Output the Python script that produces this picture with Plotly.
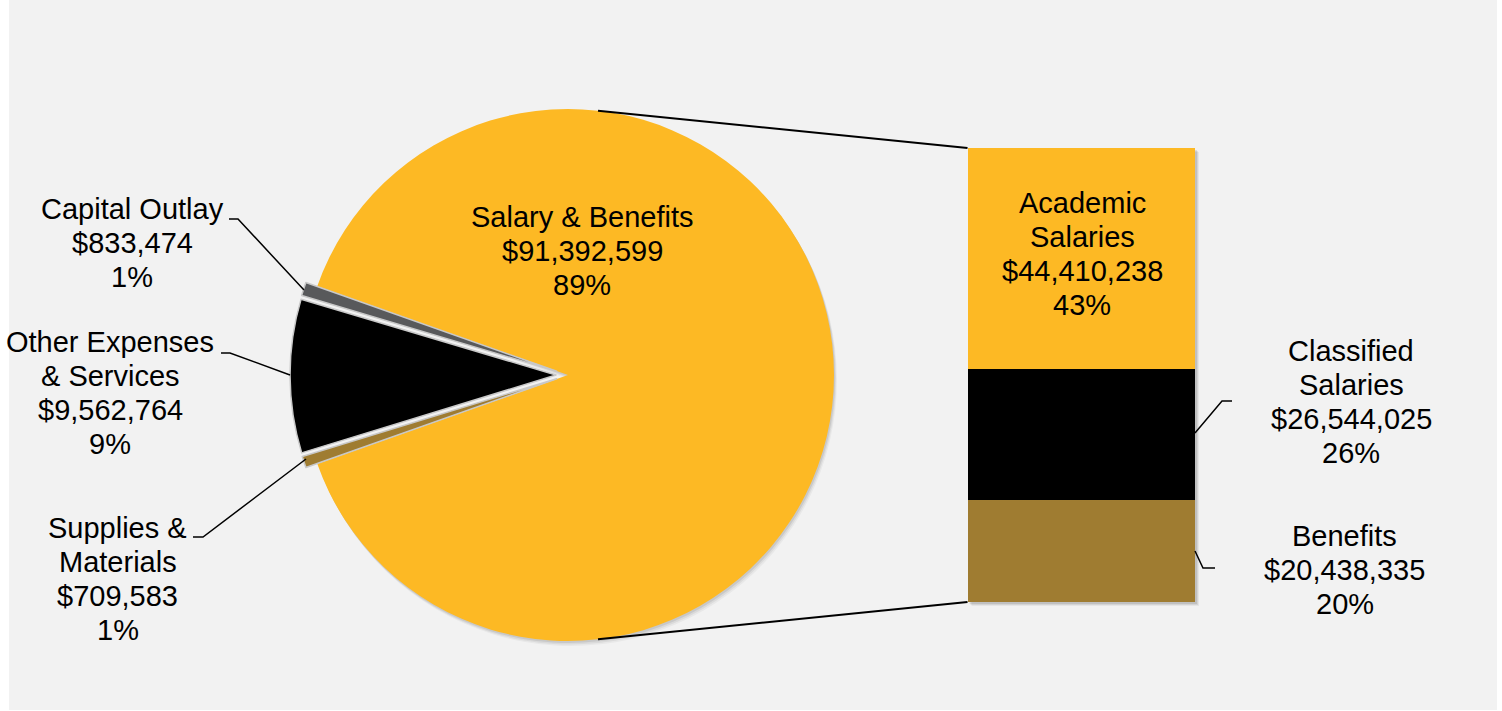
import plotly.graph_objects as go

# ---- data ----
pie_labels = ["Salary & Benefits", "Supplies &<br>Materials",
              "Other Expenses<br>& Services", "Capital Outlay"]
pie_values = [91392599, 709583, 9562764, 833474]
pie_colors = ["#FDB924", "#9F7C31", "#000000", "#58595B"]
pie_edge = ["rgba(0,0,0,0)", "#c8c8c8", "#c8c8c8", "#c8c8c8"]
pie_pull = [0.0, 0.045, 0.045, 0.045]

bar_labels = ["Benefits", "Classified<br>Salaries", "Academic<br>Salaries"]
bar_values = [20438335, 26544025, 44410238]
bar_colors = ["#9F7C31", "#000000", "#FDB924"]

grand_total = sum(pie_values)

# ---- page geometry (pixels) ----
W, H = 1502, 711
ML, MR, MT, MB = 9, 0, 0, 1
PW, PH = W - ML - MR, H - MT - MB


def px(x):
    return (x - ML) / PW


def py(y):
    return 1 - (y - MT) / PH


FONT = "Liberation Sans, Arial, sans-serif"
FS = 29
LINE = 34

# pie placement
CX, CY, R = 568, 375, 266
half = R * (1 + max(pie_pull))
# bar placement
BX0, BX1, BY0, BY1 = 967.5, 1195, 148, 602

# first slice starts so that the small slices sit centred on the left
ROT = -(90 - 180 * (grand_total - pie_values[0]) / grand_total)


def money(v):
    return "${:,.0f}".format(v)


def pct(v):
    return "{:.0f}%".format(v / grand_total * 100)


fig = go.Figure()

# soft shadow under the pie
for off, op in [(5, 0.04), (3.5, 0.06), (2, 0.08)]:
    fig.add_trace(go.Pie(
        values=pie_values, sort=False, direction="clockwise", rotation=ROT,
        pull=pie_pull, textinfo="none", hoverinfo="skip", showlegend=False,
        marker=dict(colors=["rgba(0,0,0,%s)" % op, "rgba(0,0,0,0)",
                            "rgba(0,0,0,0)", "rgba(0,0,0,0)"],
                    line=dict(width=0)),
        domain=dict(x=[px(CX - half + off * 0.6), px(CX + half + off * 0.6)],
                    y=[py(CY + half + off), py(CY - half + off)]),
    ))

fig.add_trace(go.Pie(
    labels=pie_labels, values=pie_values, sort=False, direction="clockwise",
    rotation=ROT, pull=pie_pull, textinfo="none", showlegend=False,
    marker=dict(colors=pie_colors, line=dict(color=pie_edge, width=1.5)),
    domain=dict(x=[px(CX - half), px(CX + half)],
                y=[py(CY + half), py(CY - half)]),
))

# stacked bar breaking down the largest slice
for lab, val, col in zip(bar_labels, bar_values, bar_colors):
    fig.add_trace(go.Bar(
        x=[0], y=[val], width=1, marker=dict(color=col, line=dict(width=0)),
        name=lab.replace("<br>", " "), showlegend=False,
        xaxis="x", yaxis="y",
    ))

shapes = [
    dict(type="rect", xref="paper", yref="paper", x0=0, x1=px(1497),
         y0=0, y1=1, fillcolor="#F2F2F2", line=dict(width=0), layer="below"),
]
# bar shadow
for off, op in [(4, 0.05), (3, 0.07), (2, 0.09)]:
    shapes.append(dict(type="rect", xref="paper", yref="paper",
                       x0=px(BX0 + off), x1=px(BX1 + off),
                       y0=py(BY1 + off), y1=py(BY0 + off),
                       fillcolor="rgba(0,0,0,%s)" % op, line=dict(width=0),
                       layer="below"))


def polyline(points, width=1.5):
    d = "M " + " L ".join("{:.5f},{:.5f}".format(px(x), py(y)) for x, y in points)
    return dict(type="path", xref="paper", yref="paper", path=d,
                line=dict(color="#000000", width=width))


# series lines from pie to bar
dx = 30
dy = (R ** 2 - dx ** 2) ** 0.5
shapes.append(polyline([(CX + dx, CY - dy), (BX0, BY0)], 2))
shapes.append(polyline([(CX + dx, CY + dy), (BX0, BY1)], 2))

# leader lines
shapes.append(polyline([(229, 219), (238, 219), (304, 290)]))
shapes.append(polyline([(221, 353), (230, 353), (290, 375)]))
shapes.append(polyline([(193, 537), (203, 537), (306, 459)]))
shapes.append(polyline([(1195, 433), (1222, 401), (1232, 401)]))
shapes.append(polyline([(1195, 551), (1203, 568), (1215, 568)]))

annotations = []


def label_block(lines, x, y_first):
    for i, t in enumerate(lines):
        annotations.append(dict(
            text=t, x=px(x), y=py(y_first + i * LINE), xref="paper", yref="paper",
            xanchor="center", yanchor="middle", showarrow=False,
            font=dict(family=FONT, size=FS, color="#000000"),
        ))


def lines_for(name, val):
    return name.split("<br>") + [money(val), pct(val)]


label_block(lines_for(pie_labels[0], pie_values[0]), 582, 217)
label_block(lines_for(pie_labels[3], pie_values[3]), 132, 209)
label_block(lines_for(pie_labels[2], pie_values[2]), 110, 342)
label_block(lines_for(pie_labels[1], pie_values[1]), 117.5, 528)
label_block(lines_for(bar_labels[2], bar_values[2]), 1082, 203)
label_block(lines_for(bar_labels[1], bar_values[1]), 1351, 351)
label_block(lines_for(bar_labels[0], bar_values[0]), 1344.5, 536)

fig.update_layout(
    width=W, height=H,
    margin=dict(l=ML, r=MR, t=MT, b=MB),
    paper_bgcolor="#FFFFFF", plot_bgcolor="rgba(0,0,0,0)",
    barmode="stack", bargap=0,
    xaxis=dict(domain=[px(BX0), px(BX1)], range=[-0.5, 0.5], visible=False,
               fixedrange=True),
    yaxis=dict(domain=[py(BY1), py(BY0)], range=[0, sum(bar_values)],
               visible=False, fixedrange=True),
    shapes=shapes, annotations=annotations,
    font=dict(family=FONT),
)

fig.write_html("out.html")
